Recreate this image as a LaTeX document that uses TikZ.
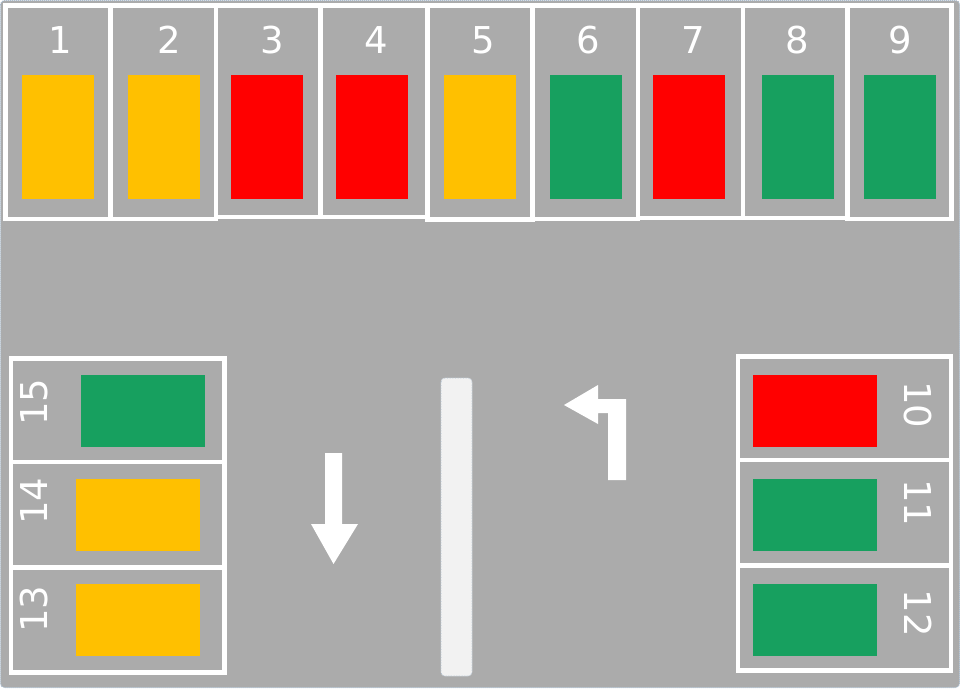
\documentclass[tikz,border=0pt]{standalone}
\usepackage{fontspec}
\setmainfont{DejaVu Sans}
\definecolor{road}{HTML}{ABABAB}
\definecolor{cyel}{HTML}{FFC000}
\definecolor{cred}{HTML}{FF0000}
\definecolor{cgrn}{HTML}{17A05F}
\definecolor{mid}{HTML}{F2F2F2}
\definecolor{edge}{HTML}{A9BCCF}
\tikzset{
  bay/.style={draw=white, line width=4.5pt, fill=road},
  num/.style={text=white, font=\fontsize{37}{40}\selectfont, inner sep=0pt},
  paint/.style={fill=white, draw=none},
}
\begin{document}
\begin{tikzpicture}[x=1pt,y=-1pt]
\useasboundingbox (0,0) rectangle (960,688);
\fill[road, rounded corners=4pt] (0.5,0.5) rectangle (959.5,687.5);
\draw[edge, densely dotted, line width=1pt, rounded corners=4pt] (0.5,0.5) rectangle (959.5,687.5);
% top bays: x1, x2, y2, car x1, colour, label, label x
\foreach \xa/\xb/\yb/\cx/\col/\lab/\lx in {
  5.5/110.5/219/22/cyel/1/60,
  110.5/216/219/128/cyel/2/169,
  216/320.5/217/231/cred/3/272,
  320.5/427/217/336/cred/4/376,
  427.5/532.5/219.5/444/cyel/5/483,
  532.5/638/219/550/cgrn/6/588,
  638/743/218/653/cred/7/693,
  743/847.5/218/762/cgrn/8/797,
  847.5/951.5/219/864/cgrn/9/900}{
  \draw[bay] (\xa,5.5) rectangle (\xb,\yb);
  \fill[\col] (\cx,75) rectangle ++(72,124);
  \node[num] (t\lab) at (\lx,40) {\lab};
}
% left bays
\foreach \ya/\yb/\cx/\cy/\col/\lab/\ly in {
  358.5/462/81/375/cgrn/15/402,
  462/567.5/76/479/cyel/14/501,
  567.5/672.5/76/584/cyel/13/609}{
  \draw[bay] (11,\ya) rectangle (224.5,\yb);
  \fill[\col] (\cx,\cy) rectangle ++(124,72);
  \node[num, rotate=90] (l\lab) at (34,\ly) {\lab};
}
% right bays
\foreach \ya/\yb/\cy/\col/\lab/\ly in {
  356.5/460/375/cred/10/405,
  460/565.5/479/cgrn/11/503,
  565.5/670.5/584/cgrn/12/613}{
  \draw[bay] (738,\ya) rectangle (951,\yb);
  \fill[\col] (753,\cy) rectangle ++(124,72);
  \node[num, rotate=-90] (r\lab) at (918,\ly) {\lab};
}
% median
\draw[mid, fill=mid, rounded corners=4pt] (441,378) rectangle (472,676);
\draw[edge, densely dotted, line width=0.6pt, rounded corners=4pt] (441,378) rectangle (472,676);
% straight arrow
\fill[paint] (325,453) -- (342,453) -- (342,524) -- (358,524) -- (333.5,564)
  -- (311,524) -- (325,524) -- cycle;
% turn arrow
\fill[paint] (626,399) -- (626,480) -- (608,480) -- (608,413) -- (598,413)
  -- (598,424) -- (564,405) -- (598,385) -- (598,399) -- cycle;
\end{tikzpicture}
\end{document}
